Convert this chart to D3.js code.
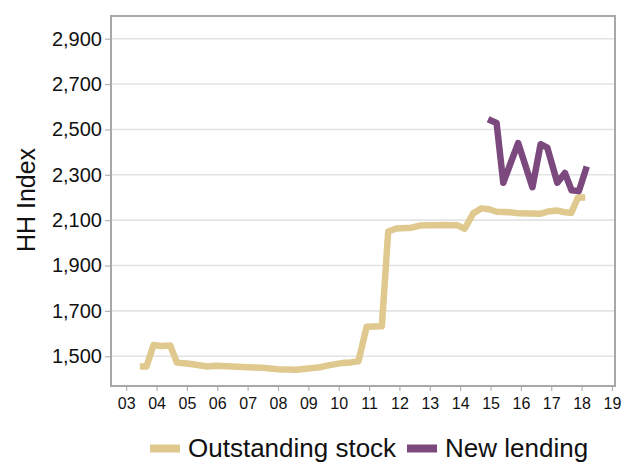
<!DOCTYPE html>
<html>
<head>
<meta charset="utf-8">
<script src="https://cdn.jsdelivr.net/npm/d3@7"></script>
<style>
  html, body { margin: 0; padding: 0; background: #fff; }
  svg { display: block; font-family: "Liberation Sans", Arial, Helvetica, sans-serif; }
</style>
</head>
<body>
<svg id="chart" width="623" height="462"></svg>
<script>
// ---- Data ----
const stockYears = [2003.45, 2003.67, 2003.9, 2004.15, 2004.45, 2004.67, 2005.0, 2005.3, 2005.67, 2005.95,
  2006.5, 2007.0, 2007.5, 2008.0, 2008.6, 2009.0, 2009.4, 2009.7, 2010.1, 2010.4, 2010.65, 2010.92,
  2011.15, 2011.42, 2011.63, 2011.9, 2012.4, 2012.67, 2013.0, 2013.5, 2013.9, 2014.15, 2014.43, 2014.7,
  2014.95, 2015.2, 2015.64, 2015.96, 2016.3, 2016.62, 2016.89, 2017.17, 2017.4, 2017.66, 2017.88, 2018.12];
const stockValues = [1455, 1455, 1550, 1545, 1548, 1472, 1468, 1463, 1455, 1458,
  1455, 1452, 1449, 1443, 1441, 1446, 1452, 1461, 1470, 1473, 1478, 1630,
  1631, 1632, 2050, 2063, 2067, 2076, 2078, 2079, 2078, 2062, 2130, 2152,
  2148, 2137, 2135, 2130, 2129, 2128, 2138, 2143, 2136, 2132, 2200, 2200];

const lendingYears = [2014.92, 2015.2, 2015.42, 2015.91, 2016.38, 2016.65, 2016.87, 2017.2, 2017.45, 2017.67, 2017.91, 2018.17];
const lendingValues = [2545, 2528, 2265, 2440, 2245, 2435, 2420, 2265, 2308, 2232, 2228, 2337];

const xTickValues = [2003, 2004, 2005, 2006, 2007, 2008, 2009, 2010, 2011, 2012, 2013, 2014, 2015, 2016, 2017, 2018, 2019];
const yTickValues = [1500, 1700, 1900, 2100, 2300, 2500, 2700, 2900];
const seriesNames = ["Outstanding stock", "New lending"];
const seriesColors = ["#DFC98F", "#7B497E"];
const yAxisTitle = "HH Index";

// ---- Layout ----
const svg = d3.select("#chart");
const mLeft = 111, mRight = 615, mTop = 16, mBottom = 386;

const x = d3.scaleLinear().domain([2002.5, 2019.1]).range([mLeft, mRight]);
const y = d3.scaleLinear().domain([1369, 3000]).range([mBottom, mTop]);

// gridlines
svg.append("g")
  .selectAll("line")
  .data(yTickValues)
  .join("line")
  .attr("x1", mLeft).attr("x2", mRight)
  .attr("y1", d => y(d)).attr("y2", d => y(d))
  .attr("stroke", "#e3e3e3")
  .attr("stroke-width", 1.6);

// y axis
const yAxis = svg.append("g")
  .attr("transform", `translate(${mLeft},0)`)
  .call(d3.axisLeft(y).tickValues(yTickValues).tickSize(6).tickPadding(3).tickFormat(d3.format(",")));
yAxis.select(".domain").remove();
yAxis.selectAll(".tick line").attr("stroke", "#b3b3b3").attr("stroke-width", 1.2);
yAxis.selectAll(".tick text").attr("font-size", 20).attr("fill", "#111").attr("font-family", "Liberation Sans, Arial, sans-serif");

// x axis
const xAxis = svg.append("g")
  .attr("transform", `translate(0,${mBottom})`)
  .call(d3.axisBottom(x).tickValues(xTickValues).tickSize(5).tickPadding(6.5)
    .tickFormat(d => String(d % 100).padStart(2, "0")));
xAxis.select(".domain").remove();
xAxis.selectAll(".tick line").attr("stroke", "#b3b3b3").attr("stroke-width", 1.2);
xAxis.selectAll(".tick text").attr("font-size", 16).attr("fill", "#111")
  .attr("font-family", "'Liberation Sans Narrow', 'Arial Narrow', 'Liberation Sans', Arial, sans-serif");

// frame
svg.append("rect")
  .attr("x", mLeft).attr("y", mTop)
  .attr("width", mRight - mLeft).attr("height", mBottom - mTop)
  .attr("fill", "none")
  .attr("stroke", "#a8a8a8")
  .attr("stroke-width", 2);

// lines
const line = d3.line().x(d => x(d[0])).y(d => y(d[1]));
const stockData = stockYears.map((yr, i) => [yr, stockValues[i]]);
const lendingData = lendingYears.map((yr, i) => [yr, lendingValues[i]]);

svg.append("path")
  .datum(stockData)
  .attr("d", line)
  .attr("fill", "none")
  .attr("stroke", seriesColors[0])
  .attr("stroke-width", 6.5)
  .attr("stroke-linejoin", "round");

svg.append("path")
  .datum(lendingData)
  .attr("d", line)
  .attr("fill", "none")
  .attr("stroke", seriesColors[1])
  .attr("stroke-width", 6.5)
  .attr("stroke-linejoin", "round");

// y axis title
svg.append("text")
  .attr("transform", "translate(35,200) rotate(-90)")
  .attr("text-anchor", "middle")
  .attr("font-size", 25)
  .attr("fill", "#111")
  .text(yAxisTitle);

// legend
const legendItems = [
  { name: seriesNames[0], color: seriesColors[0], x: 150 },
  { name: seriesNames[1], color: seriesColors[1], x: 407 }
];
const lg = svg.append("g");
legendItems.forEach(it => {
  lg.append("line")
    .attr("x1", it.x).attr("x2", it.x + 30)
    .attr("y1", 448.5).attr("y2", 448.5)
    .attr("stroke", it.color)
    .attr("stroke-width", 8);
  lg.append("text")
    .attr("x", it.x + 38)
    .attr("y", 457)
    .attr("font-size", 26)
    .attr("fill", "#111")
    .text(it.name);
});
</script>
</body>
</html>
